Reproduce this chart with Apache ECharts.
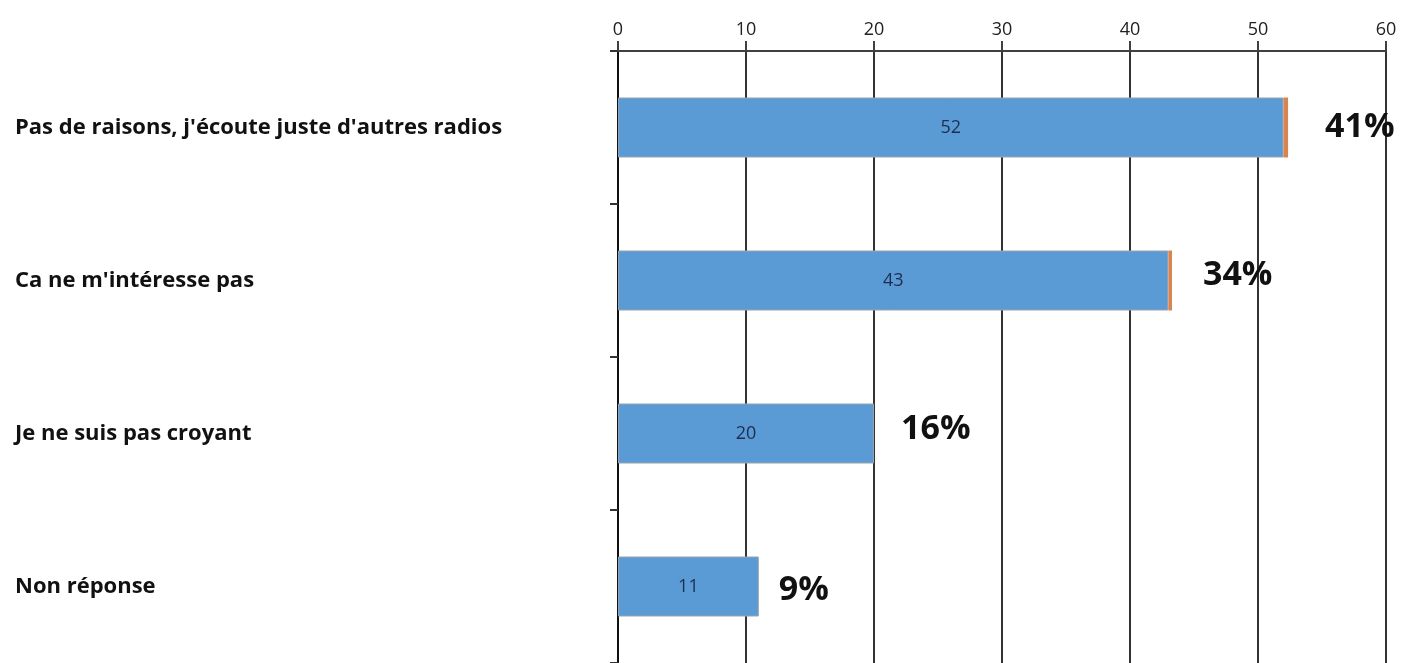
<!DOCTYPE html>
<html>
<head>
<meta charset="utf-8">
<title>Raisons</title>
<script src="https://cdn.jsdelivr.net/npm/echarts@6/dist/echarts.min.js"></script>
<style>
  html, body { margin: 0; padding: 0; background: #fff; }
  #chart { width: 1401px; height: 663px; }
</style>
</head>
<body>
<div id="chart"></div>
<script>
// données
const categories = [
  "Pas de raisons, j'écoute juste d'autres radios",
  "Ca ne m'intéresse pas",
  "Je ne suis pas croyant",
  "Non réponse"
]
const counts = [52, 43, 20, 11]
const extra = [0.35, 0.28, 0, 0] // petit bout orange au bout des barres
const percents = ['41%', '34%', '16%', '9%']

// position des étiquettes de pourcentage
const pctDistance = [37, 31, 27, 20]
const pctOffset = [[0, 0], [0, -5], [0, -4], [0, 4]]

const chart = echarts.init(document.getElementById('chart'))

chart.setOption({
  animation: false,
  textStyle: { fontFamily: 'Open Sans' },
  grid: {
    left: 618,
    right: 15,
    top: 51,
    bottom: -2
  },
  xAxis: {
    type: 'value',
    position: 'top',
    min: 0,
    max: 60,
    interval: 10,
    axisLine: {
      show: true,
      lineStyle: { color: '#404040', width: 2 }
    },
    axisTick: {
      show: true,
      length: 10,
      lineStyle: { color: '#404040', width: 2 }
    },
    axisLabel: {
      margin: 12,
      fontSize: 18,
      color: '#222'
    },
    splitLine: {
      show: true,
      lineStyle: { color: '#333', width: 2 }
    }
  },
  yAxis: {
    type: 'category',
    inverse: true,
    data: categories,
    axisLine: {
      show: true,
      lineStyle: { color: '#111', width: 2 }
    },
    axisTick: {
      show: true,
      length: 8,
      lineStyle: { color: '#333', width: 2 }
    },
    axisLabel: {
      margin: 603,
      align: 'left',
      fontSize: 22,
      fontWeight: 'bold',
      color: '#111'
    }
  },
  series: [
    {
      type: 'bar',
      stack: 'total',
      barWidth: 60,
      data: counts,
      itemStyle: {
        color: '#5b9bd5',
        borderColor: '#9aa3ad',
        borderWidth: 1
      },
      label: {
        show: true,
        position: 'inside',
        fontSize: 18,
        color: '#1d2d4f'
      }
    },
    {
      type: 'bar',
      stack: 'total',
      barWidth: 60,
      data: extra.map((v, i) => ({
        value: v,
        label: {
          distance: pctDistance[i],
          offset: pctOffset[i]
        }
      })),
      itemStyle: { color: '#d9844f' },
      label: {
        show: true,
        position: 'right',
        fontSize: 34,
        fontWeight: 'bold',
        color: '#111',
        formatter: p => percents[p.dataIndex]
      }
    }
  ]
})
</script>
</body>
</html>
